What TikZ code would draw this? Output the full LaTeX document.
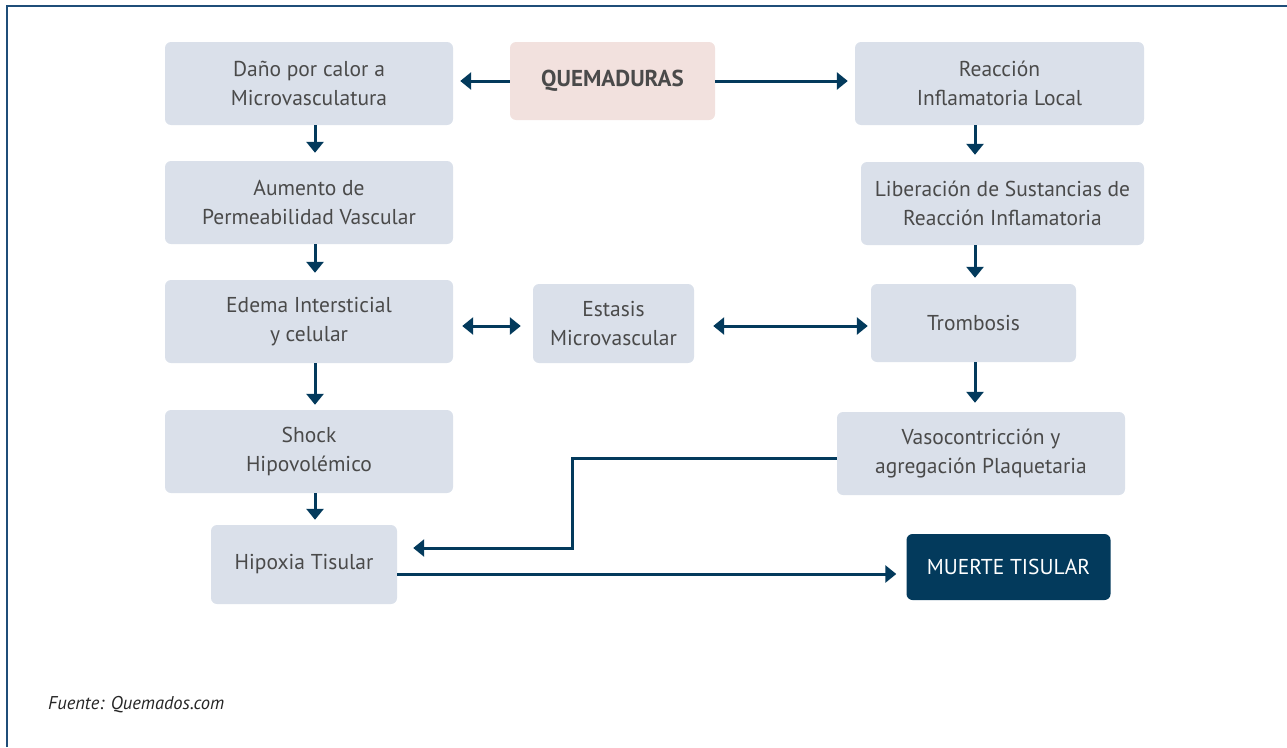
\documentclass[tikz,border=0pt]{standalone}
\usepackage{fontspec}
\setmainfont{PT Sans}
\usetikzlibrary{arrows.meta}
\definecolor{navy}{HTML}{033A5C}
\definecolor{boxfill}{HTML}{DAE0EA}
\definecolor{pinkfill}{HTML}{F2E1DE}
\definecolor{txt}{HTML}{4A4A4A}
\definecolor{framecol}{HTML}{1F4E79}
\begin{document}
\begin{tikzpicture}[x=1pt,y=-1pt,
  box/.style={fill=boxfill, rounded corners=6pt, text=txt, align=center,
    font=\fontsize{21.5}{29.5}\selectfont, inner sep=0pt},
  conn/.style={draw=navy, line width=3pt, -{Triangle[length=11pt,width=17pt]}},
  both/.style={draw=navy, line width=3pt, {Triangle[length=11pt,width=17pt]}-{Triangle[length=11pt,width=17pt]}}]
\useasboundingbox (0,0) rectangle (1287,747);
\draw[framecol, line width=2.2pt] (7,747) -- (7,6) -- (1287,6);

% left column
\node[box, minimum width=288pt, minimum height=83pt] (dano) at (309,83.5) {Daño por calor a\\Microvasculatura};
\node[box, minimum width=288pt, minimum height=83pt] (aum) at (309,202.5) {Aumento de\\Permeabilidad Vascular};
\node[box, minimum width=288pt, minimum height=83pt] (edema) at (309,321.5) {Edema Intersticial\\y celular};
\node[box, minimum width=288pt, minimum height=83pt] (shock) at (309,451.5) {Shock\\Hipovolémico};
\node[box, minimum width=186pt, minimum height=79pt] (hip) at (304,564.5) {Hipoxia Tisular};

% centre
\node[box, fill=pinkfill, minimum width=205pt, minimum height=78pt, font=\fontsize{23}{29.5}\selectfont\bfseries] (q) at (612.5,81) {QUEMADURAS};
\node[box, minimum width=161pt, minimum height=79pt] (est) at (613.5,323.5) {Estasis\\Microvascular};

% right column
\node[box, minimum width=289pt, minimum height=83pt] (reac) at (999.5,83.5) {Reacción\\Inflamatoria Local};
\node[box, minimum width=283pt, minimum height=83pt] (lib) at (1002.5,203.5) {Liberación de Sustancias de\\Reacción Inflamatoria};
\node[box, minimum width=205pt, minimum height=78pt] (trom) at (973.5,323) {Trombosis};
\node[box, minimum width=288pt, minimum height=83pt] (vaso) at (981,453.5) {Vasocontricción y\\agregación Plaquetaria};
\node[box, fill=navy, text=white, minimum width=204pt, minimum height=66pt] (mu) at (1008.5,567) {MUERTE TISULAR};

% footer
\node[anchor=west, text=black!85, font=\fontsize{18.5}{22}\selectfont\itshape, inner sep=0pt] (src) at (48,705) {Fuente: Quemados.com};

% guide coordinates
\coordinate (lx) at (315,0);
\coordinate (rx) at (975,0);
\coordinate (mid) at (0,326);
\coordinate (vy) at (0,458);
\coordinate (bend) at (572,548);
\coordinate (my) at (0,574);

% arrows
\draw[conn, shorten >=7pt] (q.west) -- (dano.east |- q.west);
\draw[conn, shorten >=7pt] (q.east) -- (reac.west |- q.east);
\draw[conn, shorten >=8pt] (dano.south -| lx) -- (aum.north -| lx);
\draw[conn, shorten >=7pt] (aum.south -| lx) -- (edema.north -| lx);
\draw[conn, shorten >=5pt] (edema.south -| lx) -- (shock.north -| lx);
\draw[conn, shorten >=5pt] (shock.south -| lx) -- (hip.north -| lx);
\draw[conn, shorten >=7pt] (reac.south -| rx) -- (lib.north -| rx);
\draw[conn, shorten >=6pt] (lib.south -| rx) -- (trom.north -| rx);
\draw[conn, shorten >=9pt] (trom.south -| rx) -- (vaso.north -| rx);
\draw[both, shorten <=9pt, shorten >=12pt] (edema.east |- mid) -- (est.west |- mid);
\draw[both, shorten <=19pt, shorten >=3pt] (est.east |- mid) -- (trom.west |- mid);
\draw[conn, shorten >=16pt] (vaso.west |- vy) -| (bend) -- (hip.east |- bend);
\draw[conn, shorten >=10pt] (hip.east |- my) -- (mu.west |- my);
\end{tikzpicture}
\end{document}
